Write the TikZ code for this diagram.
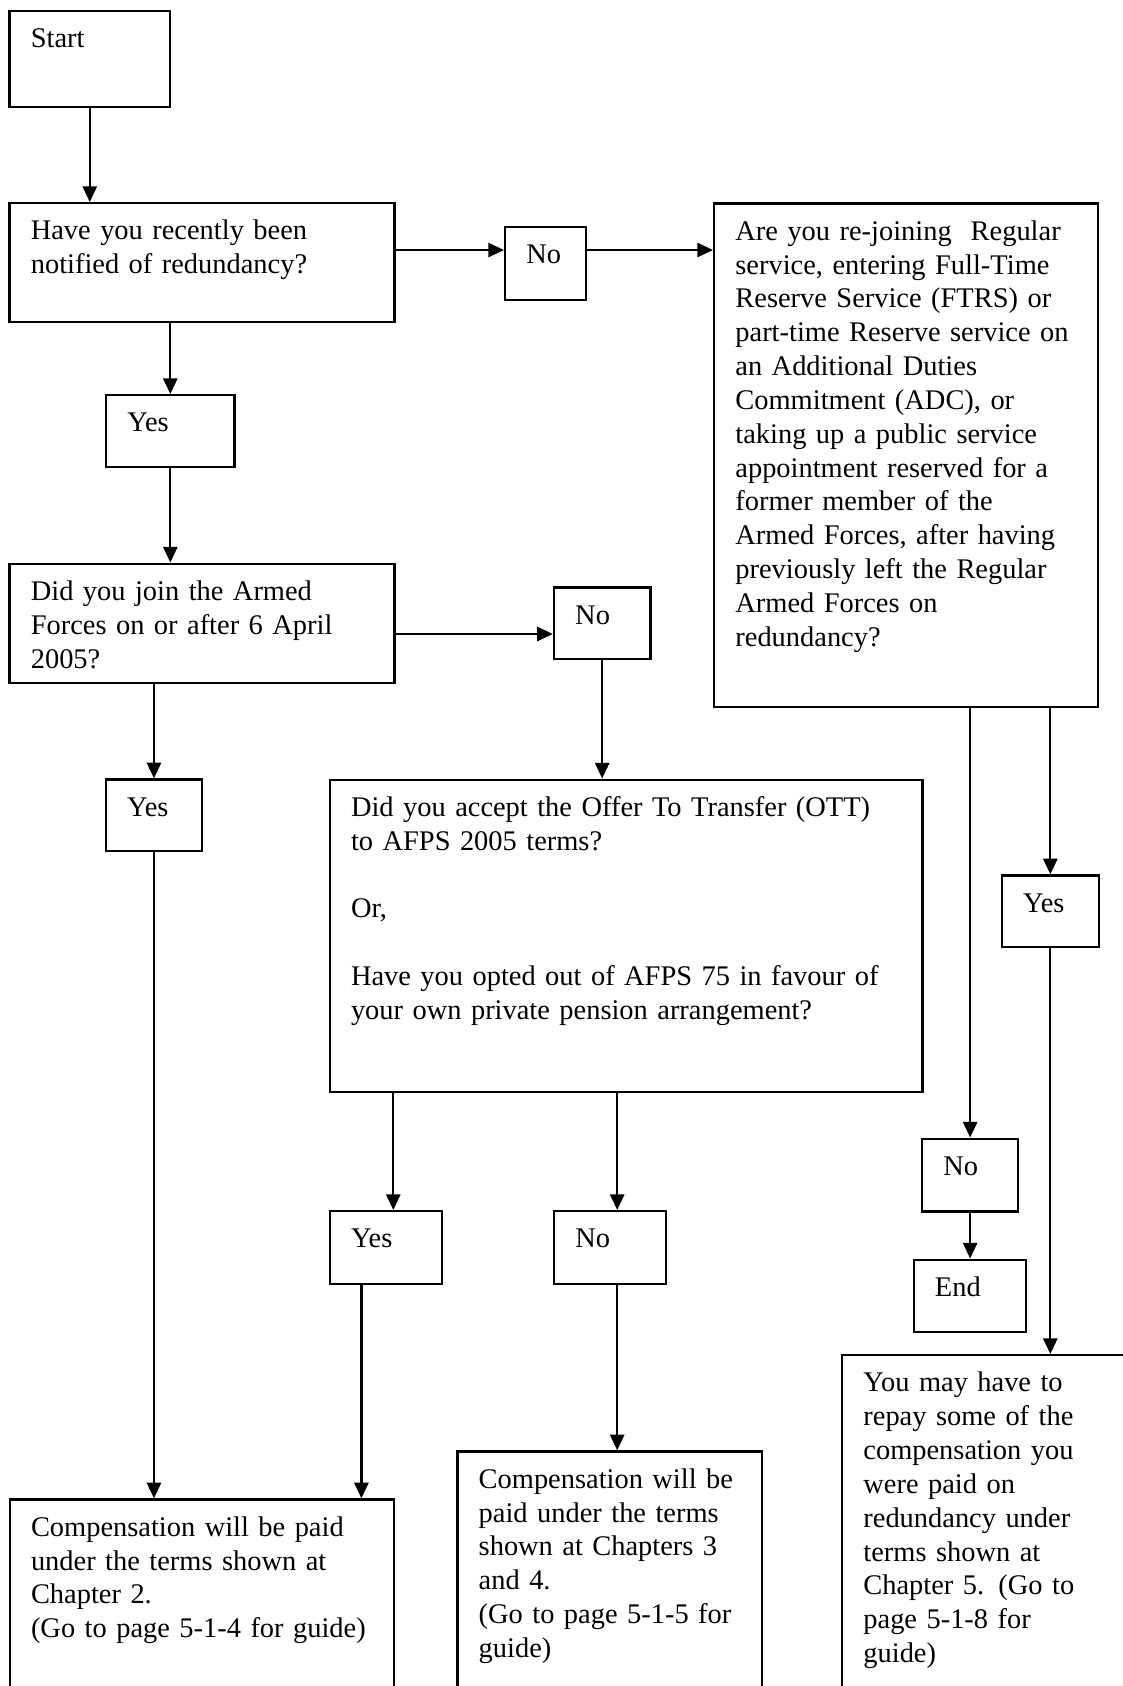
\documentclass[tikz,border=0pt]{standalone}
\usepackage{fontspec}
\setmainfont{Liberation Serif}
\usepackage{tikz}
\usetikzlibrary{arrows.meta}
\usetikzlibrary{positioning}

\tikzset{
	box/.style={draw, line width=0.9pt, anchor=north west, align=left,
		inner xsep=8.7pt, inner ysep=0pt, text height=15pt,
		font=\fontsize{11.6}{13.8}\selectfont},
	arr/.style={line width=0.9pt, ->}
}

\begin{document}
\begin{tikzpicture}[x=0.408pt, y=-0.408pt, >={Triangle[length=6.4pt,width=5.8pt]}]
				\clip (0,0) rectangle (1123,1686);
				\fill[white] (0,0) rectangle (1123,1686);
				
				\node[box, text width=48.1pt, text depth=24.2pt] (S) at (8.4,9.8) {Start};
				\node[box, text width=139.7pt, text depth=33.6pt] (Q1) at (8.4,202) {Have you recently been\\notified of redundancy?};
				\node[box, text width=15.6pt, text depth=14.6pt] (N1) at (504,226) {No};
				\node[box, text width=139.3pt, text depth=190.4pt] (Q3) at (713,202.4) {Are you re-joining\ \ Regular\\service, entering Full-Time\\Reserve Service (FTRS) or\\part-time Reserve service on\\an Additional Duties\\Commitment (ADC), or\\taking up a public service\\appointment reserved for a\\former member of the\\Armed Forces, after having\\previously left the Regular\\Armed Forces on\\redundancy?};
				\node[box, text width=35pt, text depth=14.4pt] (Y1) at (105,394) {Yes};
				\node[box, text width=139.7pt, text depth=33.8pt] (Q2) at (8.4,562.5) {Did you join the Armed\\Forces on or after 6 April\\2005?};
				\node[box, text width=22pt, text depth=14.3pt] (N2) at (552.8,586.3) {No};
				\node[box, text width=21.9pt, text depth=14.3pt] (Y2) at (104.7,778.3) {Yes};
				\node[box, text width=224.5pt, text depth=112.3pt] (Q4) at (328.6,778.5) {Did you accept the Offer To Transfer (OTT)\\to AFPS 2005 terms?\\[13.8pt]Or,\\[13.8pt]Have you opted out of AFPS 75 in favour of\\your own private pension arrangement?};
				\node[box, text width=22.2pt, text depth=14.2pt] (Y4) at (1000.7,874.3) {Yes};
				\node[box, text width=21.8pt, text depth=14.7pt] (N4) at (921,1137.5) {No};
				\node[box, text width=28.5pt, text depth=14.6pt] (Y3) at (328.6,1210) {Yes};
				\node[box, text width=28.3pt, text depth=14.6pt] (N3) at (553,1210) {No};
				\node[box, text width=28.5pt, text depth=14.4pt] (End) at (912.5,1258.5) {End};
				\node[box, text width=104.6pt, text depth=134.3pt] (C3) at (841,1354) {You may have to\\repay some of the\\compensation you\\were paid on\\redundancy under\\terms shown at\\Chapter 5. (Go to\\page 5-1-8 for\\guide)};
				\node[box, text width=106.8pt, text depth=95pt] (C2) at (456.3,1450.3) {Compensation will be\\paid under the terms\\shown at Chapters 3\\and 4.\\(Go to page 5-1-5 for\\guide)};
				\node[box, text width=139.3pt, text depth=75.5pt] (C1) at (8.6,1498.3) {Compensation will be paid\\under the terms shown at\\Chapter 2.\\(Go to page 5-1-4 for guide)};
				
				\coordinate (a1) at (0,250);
				\coordinate (a2) at (0,634);
				\coordinate (a3) at (393.3,0);
				\coordinate (a4) at (361.4,0);
				\coordinate (a5) at (617.2,0);
				
				\draw[arr] (S.south) -- (S.south |- Q1.north);
				\draw[arr] (Q1.east |- a1) -- (N1.west |- a1);
				\draw[arr] (N1.east |- a1) -- (Q3.west |- a1);
				\draw[arr] (Q1.south -| Y1) -- (Y1.north);
				\draw[arr] (Y1.south) -- (Y1.south |- Q2.north);
				\draw[arr] (Q2.east |- a2) -- (N2.west |- a2);
				\draw[arr] (N2.south) -- (N2.south |- Q4.north);
				\draw[arr] (Q2.south -| Y2) -- (Y2.north);
				\draw[arr] (Y2.south) -- (Y2.south |- C1.north);
				\draw[arr] (Q4.south -| a3) -- (Y3.north -| a3);
				\draw[arr] (Y3.south -| a4) -- (C1.north -| a4);
				\draw[arr] (Q4.south -| a5) -- (N3.north -| a5);
				\draw[arr] (N3.south -| a5) -- (C2.north -| a5);
				\draw[arr] (Q3.south -| N4) -- (N4.north);
				\draw[arr] (N4.south) -- (N4.south |- End.north);
				\draw[arr] (Q3.south -| Y4) -- (Y4.north);
				\draw[arr] (Y4.south) -- (Y4.south |- C3.north);
			\end{tikzpicture}
\end{document}
